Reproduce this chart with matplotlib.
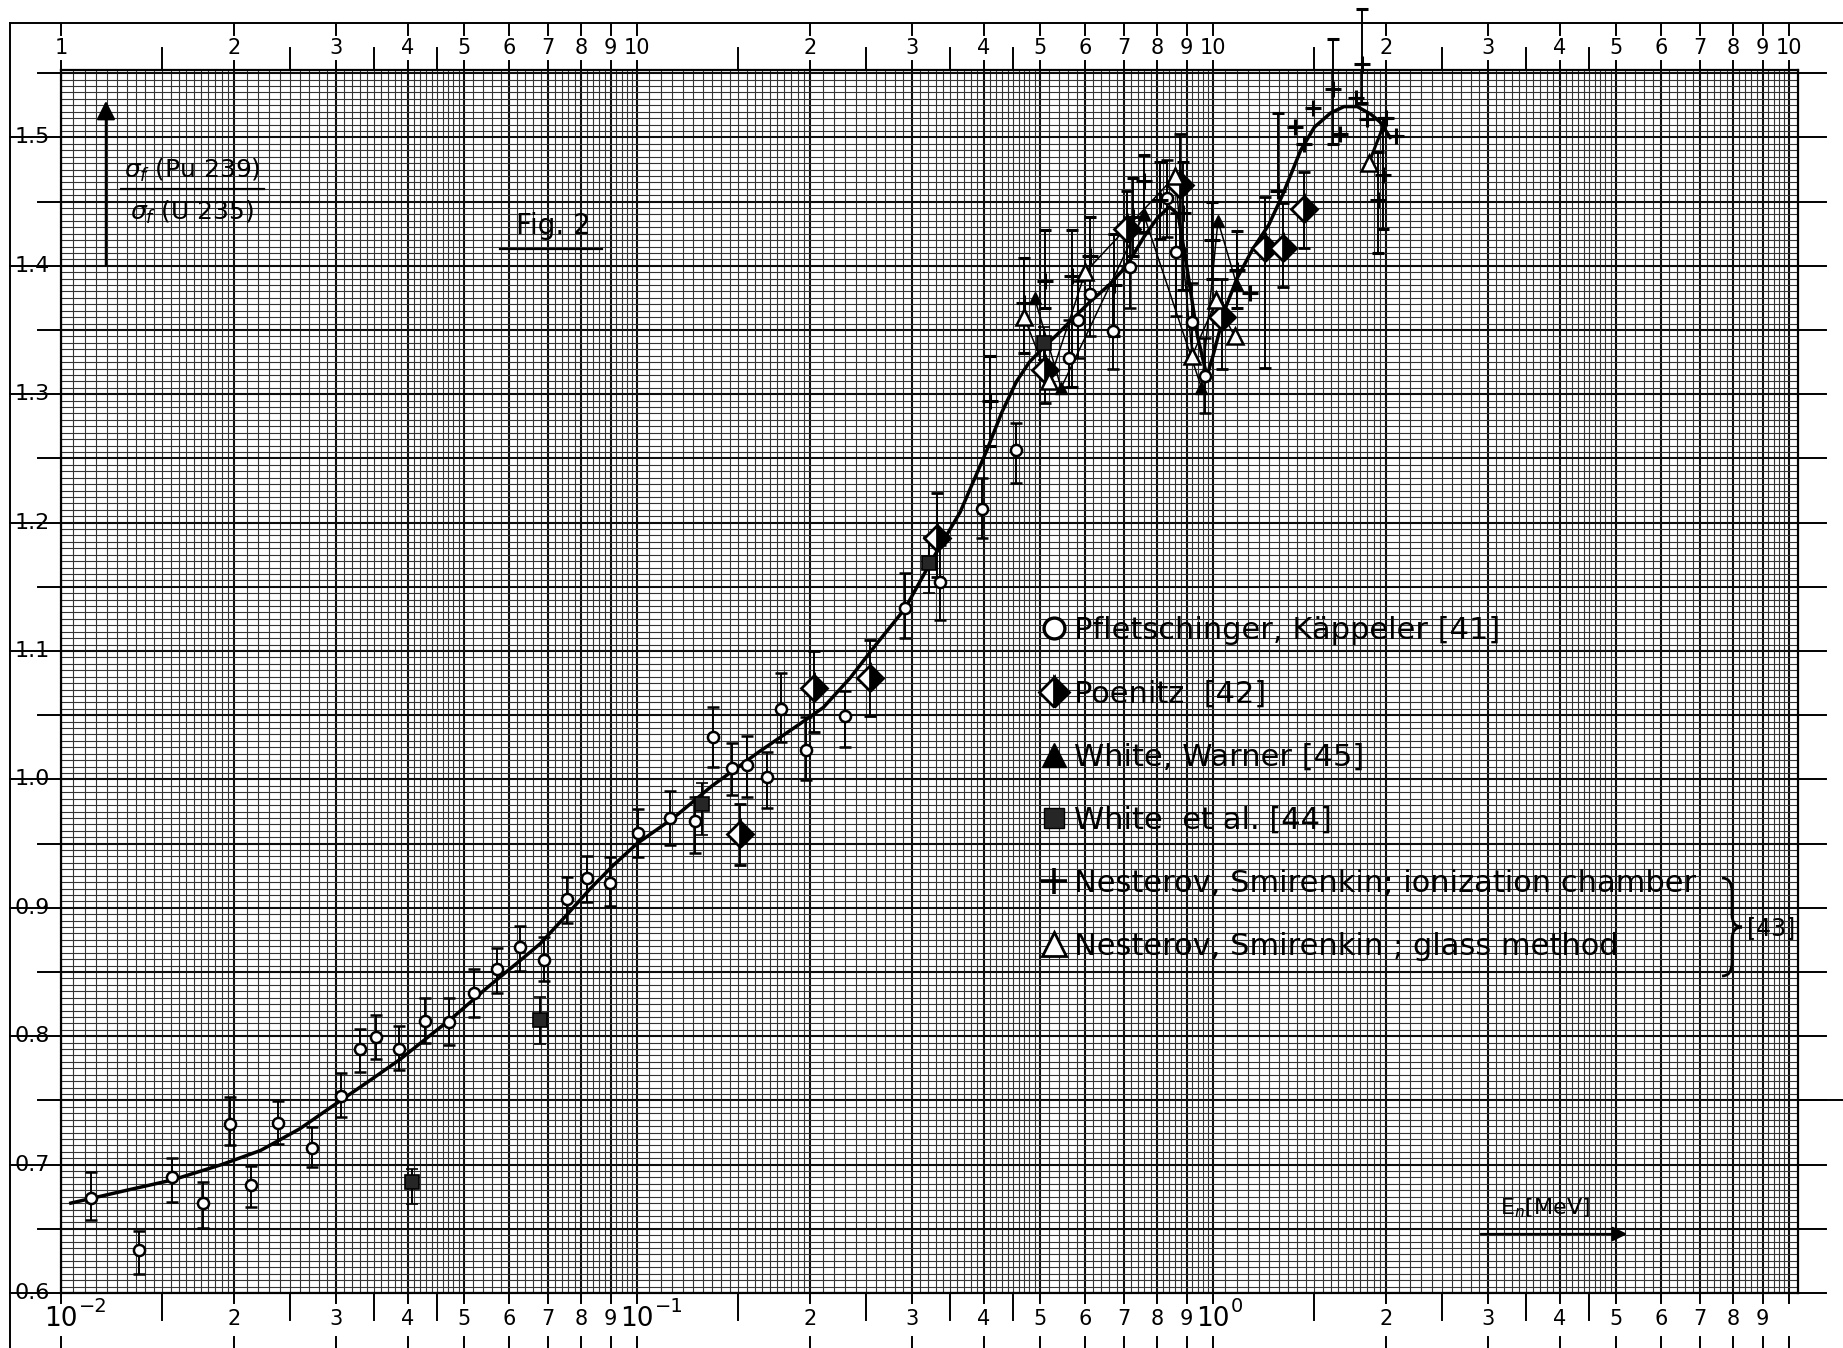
import numpy as np
import matplotlib.pyplot as plt
from matplotlib.lines import Line2D
from matplotlib.patches import FancyArrowPatch, PathPatch
from matplotlib.path import Path
from matplotlib.transforms import offset_copy

# ---- data ----
# Pfletschinger, Kaeppeler [41]: energy (MeV), ratio, lower / upper error
circ_e = [0.01126, 0.01366, 0.01559, 0.01766, 0.01968, 0.02139, 0.02382, 0.0273, 0.03058, 0.0331,
          0.03517, 0.03866, 0.04285, 0.0472, 0.0522, 0.0572, 0.0627, 0.0690, 0.0757, 0.0820,
          0.0899, 0.1005, 0.1141, 0.1262, 0.1357, 0.146, 0.1554, 0.168, 0.1775, 0.1963,
          0.2296, 0.2919, 0.3357, 0.3967, 0.4556, 0.563, 0.5835, 0.6116, 0.6698, 0.7178,
          0.8307, 0.864, 0.921, 0.968]
circ_v = [0.674, 0.6335, 0.690, 0.670, 0.7316, 0.684, 0.7326, 0.7127, 0.7534, 0.7898,
          0.7996, 0.790, 0.812, 0.8113, 0.834, 0.852, 0.8692, 0.8593, 0.9066, 0.9234,
          0.919, 0.958, 0.9697, 0.9676, 1.0333, 1.0087, 1.0112, 1.002, 1.0546, 1.0229,
          1.0494, 1.1333, 1.154, 1.2104, 1.2566, 1.328, 1.358, 1.378, 1.349, 1.399,
          1.4527, 1.411, 1.3565, 1.314]
circ_lo = [0.017, 0.0185, 0.019, 0.019, 0.0166, 0.017, 0.0166, 0.0147, 0.0166, 0.018,
           0.0176, 0.016, 0.017, 0.0183, 0.0188, 0.0186, 0.0184, 0.0163, 0.0182, 0.0186,
           0.0176, 0.0187, 0.0207, 0.0251, 0.0233, 0.0208, 0.0252, 0.0245, 0.0252, 0.0234,
           0.0239, 0.0234, 0.030, 0.0226, 0.026, 0.022, 0.03, 0.033, 0.029, 0.032,
           0.03, 0.05, 0.03, 0.029]
circ_hi = [0.020, 0.015, 0.0155, 0.0165, 0.0214, 0.015, 0.0172, 0.0163, 0.0182, 0.0156,
           0.0169, 0.018, 0.0175, 0.0182, 0.018, 0.017, 0.0166, 0.0177, 0.0177, 0.0169,
           0.0203, 0.0187, 0.0213, 0.0189, 0.0233, 0.0199, 0.0226, 0.0196, 0.0284, 0.0255,
           0.0196, 0.0272, 0.0286, 0.0241, 0.0207, 0.03, 0.03, 0.03, 0.036, 0.03,
           0.03, 0.03, 0.03, 0.03]

# Poenitz [42]
poe_e = [0.1509, 0.2028, 0.2538, 0.3321, 0.511, 0.708, 0.876, 1.035, 1.231, 1.3245, 1.438]
poe_v = [0.9575, 1.071, 1.0787, 1.1878, 1.319, 1.4284, 1.463, 1.360, 1.4136, 1.4136, 1.444]
poe_lo = [0.0245, 0.034, 0.029, 0.03, 0.026, 0.03, 0.05, 0.04, 0.093, 0.03, 0.0304]
poe_hi = [0.0235, 0.029, 0.030, 0.035, 0.02, 0.03, 0.04, 0.03, 0.04, 0.035, 0.0293]

# White et al. [44]
wea_e = [0.04065, 0.0679, 0.1295, 0.3219, 0.5094]
wea_v = [0.6867, 0.8126, 0.981, 1.1688, 1.3397]
wea_lo = [0.017, 0.0186, 0.024, 0.024, 0.013]
wea_hi = [0.010, 0.018, 0.016, 0.020, 0.013]

# White, Warner [45] (joined by thin lines)
ww_e = [0.49, 0.545, 0.758, 0.955, 1.02, 1.10]
ww_v = [1.375, 1.305, 1.44, 1.305, 1.435, 1.385]

# Nesterov, Smirenkin; ionization chamber [43]
pl_e = [0.41, 0.47, 0.511, 0.569, 0.611, 0.6745, 0.7275, 0.758, 0.808, 0.886, 0.996, 1.10, 1.159,
        1.298, 1.388, 1.44, 1.493, 1.6135, 1.66, 1.77, 1.811, 1.85, 1.934, 1.97, 1.994, 2.077]
pl_v = [1.295, 1.371, 1.388, 1.392, 1.408, 1.385, 1.438, 1.466, 1.451, 1.441, 1.42, 1.397, 1.379,
        1.458, 1.508, 1.495, 1.523, 1.538, 1.503, 1.531, 1.557, 1.514, 1.451, 1.471, 1.515, 1.501]
pl_lo = [0.035, 0.039, 0.021, 0.086, 0.03, 0.04, 0.03, 0.04, 0.03, 0.06, 0.03, 0.03, 0.0,
         0.0, 0.0, 0.0, 0.0, 0.043, 0.0, 0.0, 0.030, 0.0, 0.041, 0.042, 0.0, 0.0]
pl_hi = [0.035, 0.035, 0.04, 0.036, 0.03, 0.04, 0.03, 0.02, 0.03, 0.04, 0.03, 0.03, 0.0,
         0.061, 0.0, 0.0, 0.0, 0.039, 0.0, 0.0, 0.043, 0.0, 0.038, 0.044, 0.0, 0.0]

# Nesterov, Smirenkin; glass method [43] (joined by thin lines)
gl_e = [0.47, 0.52, 0.60, 0.86, 0.92, 1.014, 1.09]
gl_v = [1.36, 1.31, 1.395, 1.47, 1.33, 1.373, 1.345]
gl2_e = [1.864, 2.0]
gl2_v = [1.480, 1.515]

# hand drawn fit curve
curve_e = [0.0104, 0.0130, 0.0156, 0.0190, 0.0222, 0.0260, 0.0306, 0.0345, 0.0388, 0.0430,
           0.0480, 0.0550, 0.0627, 0.0679, 0.0757, 0.0830, 0.0909, 0.1000, 0.1157, 0.1350,
           0.1635, 0.1900, 0.2106, 0.2344, 0.2600, 0.2919, 0.3243, 0.3638, 0.4046, 0.4300,
           0.4560, 0.4800, 0.5094, 0.5350, 0.5600, 0.6116, 0.6600, 0.7080, 0.7600, 0.8000,
           0.8400, 0.8700, 0.9000, 0.9400, 0.9760, 1.0000, 1.0530, 1.1000, 1.1720, 1.2500,
           1.3200, 1.4200, 1.5000, 1.6000, 1.6880, 1.7800, 1.8800, 1.9500, 2.0300]
curve_v = [0.670, 0.680, 0.688, 0.700, 0.711, 0.728, 0.750, 0.766, 0.782, 0.798,
           0.815, 0.838, 0.859, 0.872, 0.895, 0.915, 0.933, 0.950, 0.970, 0.995,
           1.022, 1.042, 1.056, 1.079, 1.105, 1.133, 1.170, 1.208, 1.256, 1.286,
           1.310, 1.325, 1.337, 1.346, 1.355, 1.372, 1.385, 1.400, 1.423, 1.437,
           1.446, 1.440, 1.400, 1.345, 1.314, 1.330, 1.368, 1.390, 1.413, 1.432,
           1.455, 1.490, 1.508, 1.519, 1.524, 1.524, 1.518, 1.512, 1.500]

# tick labels
y_ticks = [0.6, 0.7, 0.8, 0.9, 1.0, 1.1, 1.2, 1.3, 1.4, 1.5]
y_labels = ['0.6', '0.7', '0.8', '0.9', '1.0', '1.1', '1.2', '1.3', '1.4', '1.5']
bot_pos = [0.01, 0.02, 0.03, 0.04, 0.05, 0.06, 0.07, 0.08, 0.09,
           0.1, 0.2, 0.3, 0.4, 0.5, 0.6, 0.7, 0.8, 0.9,
           1, 2, 3, 4, 5, 6, 7, 8, 9]
bot_labels = ['10', '2', '3', '4', '5', '6', '7', '8', '9',
              '10', '2', '3', '4', '5', '6', '7', '8', '9',
              '10', '2', '3', '4', '5', '6', '7', '8', '9']
dec_pos = [0.01, 0.1, 1]
dec_exp = ['\u22122', '\u22121', '0']
top_pos = [0.01, 0.02, 0.03, 0.04, 0.05, 0.06, 0.07, 0.08, 0.09, 0.1,
           0.2, 0.3, 0.4, 0.5, 0.6, 0.7, 0.8, 0.9, 1,
           2, 3, 4, 5, 6, 7, 8, 9, 10]
top_labels = ['1', '2', '3', '4', '5', '6', '7', '8', '9', '10',
              '2', '3', '4', '5', '6', '7', '8', '9', '10',
              '2', '3', '4', '5', '6', '7', '8', '9', '10']
half_pos = [0.015, 0.025, 0.035, 0.045, 0.15, 0.25, 0.35, 0.45, 1.5, 2.5, 3.5, 4.5]

W, H = 1843, 1348
fig = plt.figure(figsize=(W / 100, H / 100), dpi=100)
fig.patch.set_facecolor('white')
ax = fig.add_axes([61 / W, 55 / H, 1737 / W, 1223 / H])
ax.set_xscale('log')
XMAX, YMAX = 10.366, 1.5525
ax.set_xlim(0.01, XMAX)
ax.set_ylim(0.6, YMAX)
ax.xaxis.set_major_locator(plt.NullLocator())
ax.xaxis.set_minor_locator(plt.NullLocator())
ax.yaxis.set_major_locator(plt.NullLocator())
for s in ax.spines.values():
    s.set_linewidth(1.6)

# graph paper
steps = np.r_[np.arange(1, 2, 0.05), np.arange(2, 5, 0.1), np.arange(5, 10, 0.2)]
for d in [0.01, 0.1, 1, 10]:
    xs = steps * d
    keep = xs < XMAX
    big = np.isclose(steps, np.round(steps))
    ax.vlines(xs[keep & ~big], 0.6, YMAX, colors='0.2', lw=0.8, zorder=0)
    ax.vlines(xs[keep & big], 0.6, YMAX, colors='0.05', lw=1.5, zorder=0)
ys = np.round(np.arange(0.6, YMAX, 0.005), 3)
big = np.isclose((ys * 20) % 1, 0) | np.isclose((ys * 20) % 1, 1)
ax.hlines(ys[~big], 0.01, XMAX, colors='0.2', lw=0.8, zorder=0)
ax.hlines(ys[big], 0.01, XMAX, colors='0.05', lw=1.5, zorder=0)

# margin rulers
tx = ax.get_xaxis_transform()
ty = ax.get_yaxis_transform()
kw = dict(color='k', lw=1.4, clip_on=False)
for p, lab in zip(top_pos, top_labels):
    ax.plot([p, p], [1.0, 1.007], transform=tx, **kw)
    ax.plot([p, p], [1.029, 1.038], transform=tx, **kw)
    ax.text(p, 1.018, lab, transform=tx, ha='center', va='center', fontsize=15)
for p, lab in zip(bot_pos, bot_labels):
    ax.plot([p, p], [0.0, -0.008], transform=tx, **kw)
    ax.plot([p, p], [-0.036, -0.046], transform=tx, **kw)
    fs = 19 if lab == '10' else 15
    ax.text(p, -0.0215, lab, transform=tx, ha='center', va='center', fontsize=fs)
for p, e in zip(dec_pos, dec_exp):
    tr = offset_copy(tx, fig=fig, x=13, y=9, units='points')
    ax.text(p, -0.0215, e, transform=tr, ha='left', va='center', fontsize=14)
ax.plot([10, 10], [0.0, -0.008], transform=tx, **kw)
ax.plot([10, 10], [-0.036, -0.046], transform=tx, **kw)
for p in half_pos:
    ax.plot([p, p], [1.0, 1.018], transform=tx, **kw)
    ax.plot([p, p], [0.0, -0.022], transform=tx, **kw)

for y, lab in zip(y_ticks, y_labels):
    ax.plot([-0.0294, 0], [y, y], transform=ty, **kw)
    ax.text(-0.0168, y, lab, transform=ty, ha='center', va='center', fontsize=16)
for y in np.arange(0.65, 1.56, 0.1):
    ax.plot([-0.013, 0], [y, y], transform=ty, **kw)
for y in np.arange(0.6, 1.56, 0.05):
    ax.plot([1.0, 1.016], [y, y], transform=ty, **kw)
ax.plot([1.0, 1.03], [0.75, 0.75], transform=ty, **kw)
# outer frame
ax.plot([-0.0294, 1.03], [1.0384, 1.0384], transform=ax.transAxes, **kw)
ax.plot([-0.0294, -0.0294], [-0.05, 1.0384], transform=ax.transAxes, **kw)

# ---- data ----
ekw = dict(ecolor='k', elinewidth=1.4, capsize=4.5, capthick=2.2, ls='none', zorder=4)
ax.plot(curve_e, curve_v, color='k', lw=2.5, zorder=3)
ax.plot(ww_e, ww_v, color='k', lw=1.1, zorder=3)
ax.plot(gl_e, gl_v, color='k', lw=1.1, zorder=3)
ax.plot(gl2_e, gl2_v, color='k', lw=2.2, zorder=3)

conts = []
conts.append(ax.errorbar(circ_e, circ_v, yerr=[circ_lo, circ_hi], marker='o', ms=8,
                         mfc='white', mec='k', mew=1.8, **ekw))
conts.append(ax.errorbar(poe_e, poe_v, yerr=[poe_lo, poe_hi], marker='D', ms=13,
                         fillstyle='right', mfc='k', mfcalt='white', mec='k', mew=2.0, **ekw))
conts.append(ax.errorbar(wea_e, wea_v, yerr=[wea_lo, wea_hi], marker='s', ms=10,
                         mfc='0.15', mec='k', mew=1.2, **ekw))
conts.append(ax.errorbar(pl_e, pl_v, yerr=[pl_lo, pl_hi], marker='+', ms=12,
                         mec='k', mew=2.2, **ekw))
ax.plot(ww_e, ww_v, ls='none', marker='^', ms=9, color='k', zorder=5)
ax.plot(gl_e + gl2_e[:1], gl_v + gl2_v[:1], ls='none', marker='^', ms=12,
        mfc='white', mec='k', mew=1.8, zorder=5)
for c in conts:
    for a in c.get_children():
        a.set_clip_on(False)

# legend
handles = [
    Line2D([], [], ls='none', marker='o', ms=15, mfc='white', mec='k', mew=2.4),
    Line2D([], [], ls='none', marker='D', ms=15, fillstyle='right', mfc='k',
           mfcalt='white', mec='k', mew=2.0),
    Line2D([], [], ls='none', marker='^', ms=17, color='k'),
    Line2D([], [], ls='none', marker='s', ms=15, mfc='0.15', mec='k'),
    Line2D([], [], ls='none', marker='+', ms=19, mec='k', mew=2.6),
    Line2D([], [], ls='none', marker='^', ms=17, mfc='white', mec='k', mew=2.0),
]
labels = ['Pfletschinger, Käppeler [41]', 'Poenitz  [42]', 'White, Warner [45]',
          'White  et al. [44]', 'Nesterov, Smirenkin; ionization chamber',
          'Nesterov, Smirenkin ; glass method']
leg = ax.legend(handles, labels, loc='upper left', bbox_to_anchor=(0.5656, 0.5535),
                frameon=False, fontsize=22, handlelength=0.7, handletextpad=0.3,
                labelspacing=1.12, borderaxespad=0, borderpad=0)
leg.set_zorder(6)


def fp(x, y):
    return x / W, 1 - y / H


# curly brace grouping the two Nesterov entries
bx, btop, bbot, bmid = 1722, 878, 976, 927
brace = Path([fp(bx, btop), fp(bx + 10, btop), fp(bx + 10, btop + 14),
              fp(bx + 10, bmid - 12), fp(bx + 10, bmid), fp(bx + 20, bmid),
              fp(bx + 10, bmid), fp(bx + 10, bmid + 12),
              fp(bx + 10, bbot - 14), fp(bx + 10, bbot), fp(bx, bbot)],
             [Path.MOVETO, Path.CURVE3, Path.CURVE3,
              Path.LINETO, Path.CURVE3, Path.CURVE3,
              Path.CURVE3, Path.CURVE3,
              Path.LINETO, Path.CURVE3, Path.CURVE3])
fig.add_artist(PathPatch(brace, transform=fig.transFigure, fill=False, lw=2.0, color='k'))
fig.text(*fp(1771, 928), '[43]', fontsize=17, ha='center', va='center')

# y axis caption
fig.add_artist(FancyArrowPatch(fp(106, 268), fp(106, 98), transform=fig.transFigure,
                               arrowstyle='-|>', mutation_scale=28, lw=1.8, color='k'))
fig.text(*fp(192, 170), r'$\sigma_f$ (Pu 239)', ha='center', va='center', fontsize=18)
fig.add_artist(Line2D([121 / W, 264 / W], [1 - 189 / H] * 2, color='k', lw=1.6))
fig.text(*fp(192, 212), r'$\sigma_f$ (U 235)', ha='center', va='center', fontsize=18)

fig.text(*fp(553, 226), 'Fig. 2', ha='center', va='center', fontsize=20)
fig.add_artist(Line2D([500 / W, 602 / W], [1 - 249 / H] * 2, color='k', lw=1.6))

fig.text(*fp(1545, 1208), r'E$_n$[MeV]', ha='center', va='center', fontsize=16)
fig.add_artist(FancyArrowPatch(fp(1478, 1234), fp(1630, 1234), transform=fig.transFigure,
                               arrowstyle='-|>', mutation_scale=22, lw=1.6, color='k'))

fig.savefig('out.png', dpi=100, facecolor='white')
